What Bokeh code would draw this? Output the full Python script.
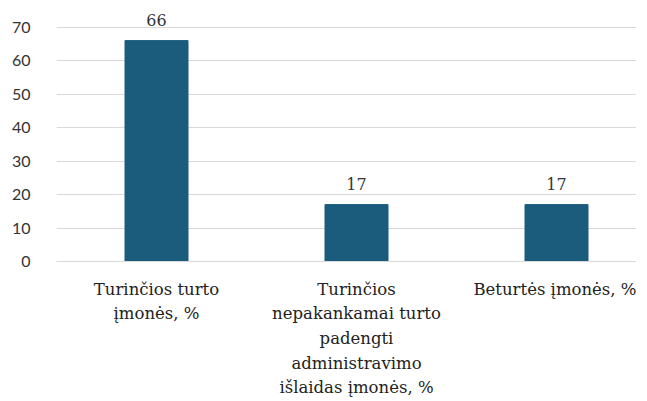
from bokeh.plotting import figure
from bokeh.models import Range1d, FixedTicker, ColumnDataSource
from bokeh.embed import file_html
from bokeh.resources import INLINE
from bokeh.core.properties import value

categories = [
    "Turinčios turto\nįmonės, %",
    "Turinčios\nnepakankamai turto\npadengti\nadministravimo\nišlaidas įmonės, %",
    "Beturtės įmonės, %",
]
values = [66, 17, 17]
y_ticks = [0, 10, 20, 30, 40, 50, 60, 70]

xs = list(range(1, len(categories) + 1))
src = ColumnDataSource(dict(x=xs, top=values, label=[str(v) for v in values]))

W, H = 636, 400
left, top, bottom = 56, 10, 138
p = figure(width=W, height=H, output_backend="svg", toolbar_location=None,
           x_range=Range1d(0.5, 0.5 + (W - left) / 200.0), y_range=Range1d(0, 75),
           min_border_left=left, min_border_right=0, min_border_top=top, min_border_bottom=bottom)
p.outline_line_color = None
p.background_fill_color = "white"

p.vbar(x="x", top="top", width=0.315, source=src, fill_color="#1b5b7c", line_color="#1b5b7c")
p.text(x="x", y="top", text="label", source=src, text_align="center", text_baseline="bottom",
       y_offset=-15, text_font=value("DejaVu Serif"), text_font_size="16px", text_color="#333333")

p.xgrid.grid_line_color = None
p.ygrid.grid_line_color = "#d9d9d9"
p.ygrid.grid_line_width = 1

p.yaxis.ticker = FixedTicker(ticks=y_ticks)
p.yaxis.axis_line_color = None
p.yaxis.major_tick_line_color = None
p.yaxis.minor_tick_line_color = None
p.yaxis.major_label_standoff = 20
p.yaxis.major_label_text_font = "Lato"
p.yaxis.major_label_text_font_size = "16px"
p.yaxis.major_label_text_color = "#333333"

p.xaxis.ticker = FixedTicker(ticks=xs)
p.xaxis.major_label_overrides = {x: c for x, c in zip(xs, categories)}
p.xaxis.axis_line_color = "#d9d9d9"
p.xaxis.major_tick_line_color = None
p.xaxis.minor_tick_line_color = None
p.xaxis.major_label_standoff = 12
p.xaxis.major_label_text_font = "DejaVu Serif"
p.xaxis.major_label_text_font_size = "16.5px"
p.xaxis.major_label_text_color = "#222222"
p.xaxis.major_label_text_line_height = 1.3

open("out.html", "w").write(file_html(p, INLINE))
